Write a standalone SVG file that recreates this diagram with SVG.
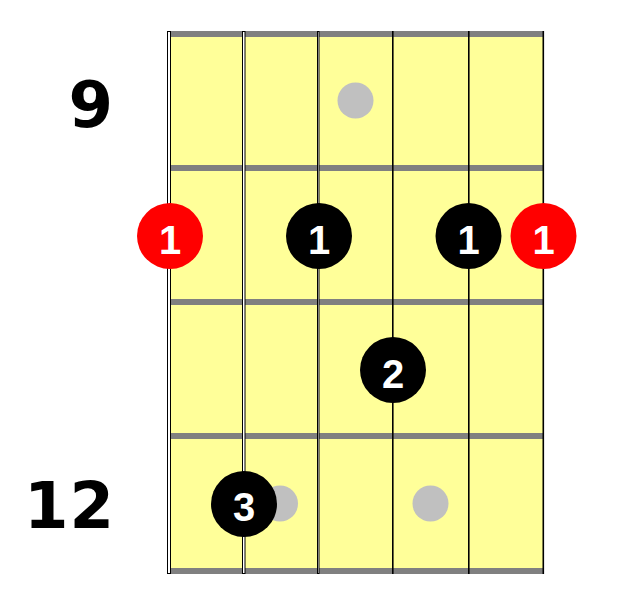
<svg xmlns="http://www.w3.org/2000/svg" width="631" height="598" viewBox="0 0 631 598">
<style>
.fret{fill:#808080}
.str{fill:#ffffff;stroke:#000000;stroke-width:1}
.thin{stroke:#000000;stroke-width:1.6}
.inlay{fill:#c0c0c0}
.blk{fill:#000000}
.red{fill:#ff0000}
.lbl{font-family:"Liberation Sans",Arial,sans-serif;font-weight:bold;font-size:40px;fill:#ffffff;text-anchor:middle}
.fnum{font-family:"DejaVu Sans",Verdana,sans-serif;font-weight:bold;font-size:64px;fill:#000000;text-anchor:end}
</style>
<rect width="631" height="598" fill="#ffffff"/>
<g id="board">
<rect x="169" y="31" width="374" height="543" fill="#ffff99"/>
<rect class="fret" x="169" y="31" width="374" height="6"/>
<rect class="fret" x="169" y="165" width="374" height="6"/>
<rect class="fret" x="169" y="299" width="374" height="6"/>
<rect class="fret" x="169" y="433" width="374" height="6"/>
<rect class="fret" x="169" y="568" width="374" height="6"/>
</g>
<g id="inlays">
<circle class="inlay" cx="355.5" cy="100.5" r="18"/>
<circle class="inlay" cx="280" cy="503.5" r="18"/>
<circle class="inlay" cx="430.5" cy="503.5" r="18"/>
</g>
<g id="strings">
<rect class="str" x="167.5" y="31.5" width="3" height="542"/>
<rect class="str" x="242.5" y="31.5" width="2.5" height="542"/>
<rect class="str" x="317.5" y="31.5" width="1.5" height="542"/>
<line class="thin" x1="392.8" y1="31" x2="392.8" y2="574"/>
<line class="thin" x1="468.8" y1="31" x2="468.8" y2="574"/>
<line class="thin" x1="543.3" y1="31" x2="543.3" y2="574"/>
</g>
<g id="fret-numbers">
<text class="fnum" x="113" y="127">9</text>
<text class="fnum" x="115" y="528" letter-spacing="1">12</text>
</g>
<g id="note-r1">
<circle class="red" cx="170" cy="236" r="33"/>
<text class="lbl" x="170" y="254">1</text>
</g>
<g id="note-b1a">
<circle class="blk" cx="319" cy="236" r="33"/>
<text class="lbl" x="319" y="254">1</text>
</g>
<g id="note-b1b">
<circle class="blk" cx="468.5" cy="236" r="33"/>
<text class="lbl" x="468.5" y="254">1</text>
</g>
<g id="note-r2">
<circle class="red" cx="543.5" cy="236" r="33"/>
<text class="lbl" x="543.5" y="254">1</text>
</g>
<g id="note-2">
<circle class="blk" cx="393" cy="370" r="33"/>
<text class="lbl" x="393" y="388">2</text>
</g>
<g id="note-3">
<circle class="blk" cx="244" cy="504" r="33"/>
<text class="lbl" x="244" y="521">3</text>
</g>
</svg>
